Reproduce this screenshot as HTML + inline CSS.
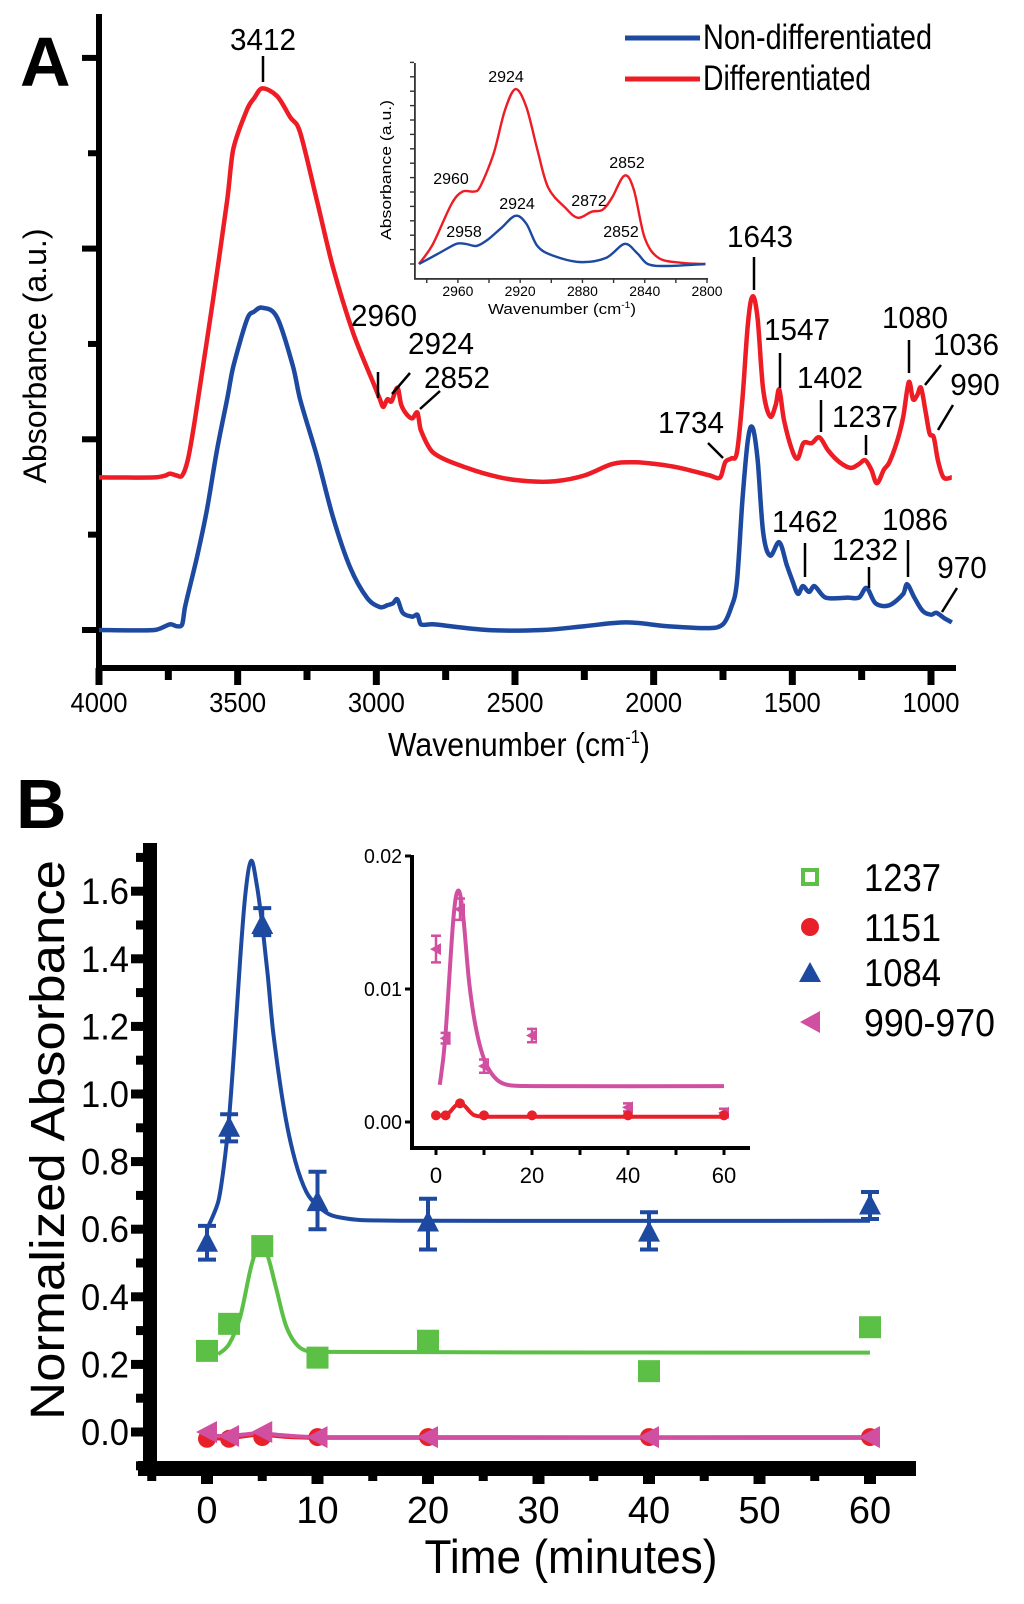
<!DOCTYPE html>
<html><head><meta charset="utf-8"><style>
html,body{margin:0;padding:0;background:#fff;}
svg{display:block;font-family:"Liberation Sans",Arial,sans-serif;}
</style></head><body>
<svg id="fig" width="1024" height="1604" viewBox="0 0 1024 1604" xmlns="http://www.w3.org/2000/svg">
<rect x="0" y="0" width="1024" height="1604" fill="#fff"/>
<text x="20" y="86" font-size="70" font-weight="bold">A</text>
<rect x="96" y="14" width="6" height="657" fill="#000"/>
<rect x="96" y="665" width="860" height="6" fill="#000"/>
<text transform="translate(46,356) rotate(-90)" text-anchor="middle" font-size="32" textLength="255" lengthAdjust="spacingAndGlyphs">Absorbance (a.u.)</text>
<text x="388" y="756" font-size="33" textLength="262" lengthAdjust="spacingAndGlyphs">Wavenumber (cm<tspan dy="-13" font-size="18">-1</tspan><tspan dy="13">)</tspan></text>
<g id="aTicks"></g>
<g id="aSeries"></g>
<g id="aNotes" font-size="31" fill="#000" text-anchor="middle"></g>
<g>
<line x1="625" y1="38" x2="700" y2="38" stroke="#1d4aa0" stroke-width="5"/>
<text x="703" y="49" font-size="35" textLength="229" lengthAdjust="spacingAndGlyphs">Non-differentiated</text>
<line x1="625" y1="79" x2="700" y2="79" stroke="#ee1c24" stroke-width="5"/>
<text x="703" y="90" font-size="35" textLength="168" lengthAdjust="spacingAndGlyphs">Differentiated</text>
</g>
<rect x="414" y="63" width="1.8" height="216" fill="#333"/>
<rect x="414" y="278" width="294" height="1.8" fill="#333"/>
<text transform="translate(391,170) rotate(-90)" text-anchor="middle" font-size="15" textLength="140" lengthAdjust="spacingAndGlyphs">Absorbance (a.u.)</text>
<text x="562" y="314" text-anchor="middle" font-size="15" textLength="148" lengthAdjust="spacingAndGlyphs">Wavenumber (cm<tspan dy="-6" font-size="9">-1</tspan><tspan dy="6">)</tspan></text>
<g id="iTicks"></g>
<g id="iSeries"></g>
<g font-size="16" text-anchor="middle">
<text x="506" y="82">2924</text>
<text x="451" y="184">2960</text>
<text x="464" y="237">2958</text>
<text x="517" y="209">2924</text>
<text x="589" y="206">2872</text>
<text x="627" y="168">2852</text>
<text x="621" y="237">2852</text>
</g>
<text x="16" y="828" font-size="70" font-weight="bold">B</text>
<rect x="143" y="843" width="14" height="633" fill="#000"/>
<rect x="138" y="1461" width="778" height="15" fill="#000"/>
<text transform="translate(64,1140) rotate(-90)" text-anchor="middle" font-size="48" textLength="560" lengthAdjust="spacingAndGlyphs">Normalized Absorbance</text>
<text x="571" y="1573" text-anchor="middle" font-size="47" textLength="293" lengthAdjust="spacingAndGlyphs">Time (minutes)</text>
<g id="bTicks"></g>
<g id="bSeries"></g>
<rect x="410" y="855" width="4" height="295" fill="#000"/>
<rect x="410" y="1146" width="340" height="4" fill="#000"/>
<g id="ibTicks"></g>
<g id="ibSeries"></g>
<g font-size="39">
<rect x="803" y="870" width="14" height="14" fill="none" stroke="#5cbf46" stroke-width="4"/>
<text x="864" y="891" textLength="77" lengthAdjust="spacingAndGlyphs">1237</text>
<circle cx="810" cy="927" r="9" fill="#e8202a"/>
<text x="864" y="941" textLength="77" lengthAdjust="spacingAndGlyphs">1151</text>
<polygon points="810,962 821,982 799,982" fill="#1d4aa0"/>
<text x="864" y="986" textLength="77" lengthAdjust="spacingAndGlyphs">1084</text>
<polygon points="800,1022 820,1011 820,1033" fill="#d14fa0"/>
<text x="864" y="1036" textLength="131" lengthAdjust="spacingAndGlyphs">990-970</text>
</g>
</svg>
<script>
const redWave = [4000,3800,3760,3744,3720,3700,3680,3660,3643,3589,3538,3516,3466,3440,3412,3358,3311,3275,3214,3156,3084,3012,2987,2975,2960,2945,2924,2910,2890,2870,2852,2840,2795,2673,2554,2450,2356,2250,2150,2074,1990,1905,1797,1760,1742,1720,1700,1680,1660,1643,1625,1605,1580,1560,1547,1530,1500,1480,1460,1430,1402,1370,1330,1290,1260,1237,1215,1195,1170,1150,1120,1100,1080,1065,1050,1036,1020,1005,990,975,955,925];
const redAbs = [0.80,0.80,0.81,0.82,0.81,0.81,0.89,1.05,1.21,1.73,2.25,2.52,2.73,2.79,2.84,2.80,2.69,2.61,2.25,1.90,1.56,1.30,1.21,1.17,1.21,1.20,1.27,1.18,1.13,1.11,1.14,1.05,0.93,0.85,0.80,0.78,0.78,0.81,0.87,0.88,0.87,0.85,0.81,0.80,0.88,0.90,0.93,1.21,1.61,1.75,1.63,1.26,1.12,1.18,1.26,1.10,0.94,0.90,0.98,0.98,1.01,0.94,0.88,0.85,0.87,0.89,0.84,0.77,0.84,0.88,1.00,1.12,1.30,1.21,1.23,1.27,1.15,1.03,1.01,0.89,0.80,0.80];
const blueWave = [4000,3800,3744,3720,3700,3690,3647,3611,3575,3538,3516,3466,3440,3412,3358,3300,3275,3214,3156,3095,3034,2987,2960,2940,2924,2905,2870,2852,2840,2795,2600,2400,2250,2100,1950,1800,1750,1720,1700,1680,1660,1643,1625,1605,1580,1547,1520,1500,1480,1462,1440,1420,1380,1300,1260,1232,1200,1150,1100,1086,1060,1030,1000,980,950,925];
const blueAbs = [0.00,0.00,0.03,0.02,0.03,0.12,0.38,0.63,0.94,1.21,1.38,1.63,1.67,1.69,1.64,1.38,1.21,0.91,0.59,0.33,0.17,0.12,0.13,0.14,0.16,0.09,0.07,0.08,0.03,0.03,0.00,0.00,0.02,0.04,0.02,0.01,0.03,0.12,0.25,0.68,1.00,1.06,0.89,0.51,0.39,0.46,0.34,0.26,0.19,0.23,0.20,0.23,0.17,0.17,0.17,0.22,0.14,0.13,0.19,0.24,0.17,0.10,0.08,0.09,0.06,0.04];
const aXTicks = [4000,3750,3500,3250,3000,2750,2500,2250,2000,1750,1500,1250,1000];
const aXLabels = ["4000","","3500","","3000","","2500","","2000","","1500","","1000"];
const aYTicks = [0,0.5,1,1.5,2,2.5,3];
const insetRedWave = [2985,2976,2964,2957,2950,2946,2937,2930,2923,2916,2909,2902,2891,2883,2874,2867,2861,2853,2847,2840,2831,2815,2801];
const insetRedAbs = [0,0.10,0.30,0.36,0.36,0.38,0.55,0.76,0.87,0.78,0.57,0.38,0.28,0.23,0.26,0.27,0.33,0.44,0.37,0.13,0.03,0.005,0];
const insetBlueWave = [2985,2973,2961,2955,2948,2941,2932,2923,2916,2909,2900,2882,2865,2853,2845,2838,2826,2801];
const insetBlueAbs = [0,0.05,0.10,0.10,0.09,0.12,0.18,0.24,0.20,0.09,0.045,0.01,0.03,0.10,0.055,0,-0.01,0];
const insetXTicks = [2980,2960,2940,2920,2900,2880,2860,2840,2820,2800];
const insetXLabels = ["","2960","","2920","","2880","","2840","","2800"];
const times = [0,2,5,10,20,40,60];
const abs1084 = [0.56,0.90,1.50,0.68,0.62,0.59,0.67];
const err1084Lo = [0.51,0.86,1.47,0.60,0.54,0.54,0.63];
const err1084Hi = [0.61,0.94,1.55,0.77,0.69,0.65,0.71];
const abs1237 = [0.24,0.32,0.55,0.22,0.27,0.18,0.31];
const abs1151 = [-0.02,-0.02,-0.015,-0.015,-0.015,-0.015,-0.015];
const abs990 = [0.0,-0.012,0.0,-0.015,-0.015,-0.015,-0.015];
const fit1084T = [0,1,1.5,2,2.5,3,3.5,4,4.5,5,5.5,6,7,8,9,10,11,12,14,20,60];
const fit1084V = [0.60,0.68,0.78,0.93,1.15,1.40,1.60,1.69,1.62,1.50,1.35,1.18,0.95,0.80,0.71,0.67,0.645,0.635,0.627,0.625,0.625];
const fit1237T = [1,2,3,4,4.8,5.5,6.3,7.2,8.4,10,60];
const fit1237V = [0.23,0.26,0.34,0.49,0.56,0.52,0.42,0.31,0.25,0.237,0.235];
const fit1151T = [0,2,4,5,7,10,60];
const fit1151V = [-0.02,-0.018,-0.01,-0.008,-0.014,-0.017,-0.017];
const fit990T = [0,2,4,5,7,10,60];
const fit990V = [-0.01,-0.012,-0.005,-0.004,-0.01,-0.015,-0.015];
const bYTicks = [-0.1,0,0.1,0.2,0.3,0.4,0.5,0.6,0.7,0.8,0.9,1.0,1.1,1.2,1.3,1.4,1.5,1.6,1.7];
const bYLabels = ["","0.0","","0.2","","0.4","","0.6","","0.8","","1.0","","1.2","","1.4","","1.6",""];
const bXTicks = [-5,0,5,10,15,20,25,30,35,40,45,50,55,60,65];
const bXLabels = ["","0","","10","","20","","30","","40","","50","","60",""];
const insetTimes = [0,2,5,10,20,40,60];
const inset1151 = [0.0005,0.0005,0.0014,0.0005,0.0005,0.0005,0.0005];
const inset990 = [0.013,0.0063,0.016,0.0042,0.0065,0.0011,0.0007];
const inset990Err = [0.001,0.0004,0.0008,0.0005,0.0005,0.0003,0.0003];
const insetFit990T = [0.8,1.9,3.6,4.6,5.6,7,8.7,10.8,13.9,20,60];
const insetFit990V = [0.0028,0.0062,0.0152,0.0174,0.0157,0.0102,0.0064,0.0041,0.0029,0.0027,0.0027];
const insetFit1151T = [0,2,3,4,5,6,7,8,10,60];
const insetFit1151V = [0.0005,0.0005,0.0008,0.0012,0.0014,0.0012,0.0008,0.0005,0.0004,0.0004];
const insetYTicks = [0,0.01,0.02];
const insetYLabels = ["0.00","0.01","0.02"];
const insetXTicksB = [0,10,20,30,40,50,60];
const insetXLabelsB = ["0","","20","","40","","60"];

const xA = w => 99 + (4000 - w) * 0.27733;
const yA = a => 630 - a * 190.7;
const xI = w => 707 - (w - 2800) * 1.557;
const yI = a => 264 - a * 201;
const xB = t => 207 + t * 11.05;
const yB = v => 1432 - v * 338;
const xb = t => 436 + t * 4.8;
const yb = v => 1122 - v * 13300;

const NS = "http://www.w3.org/2000/svg";
function mk(tag, parent, attrs) {
  const el = document.createElementNS(NS, tag);
  for (const k in attrs) el.setAttribute(k, attrs[k]);
  parent.appendChild(el);
  return el;
}
function clampT(v, a, b) { const lo = Math.min(a, b), hi = Math.max(a, b); return Math.max(lo, Math.min(hi, v)); }
function smooth(pts) {
  let d = "M" + pts[0][0].toFixed(1) + "," + pts[0][1].toFixed(1);
  for (let i = 0; i < pts.length - 1; i++) {
    const p0 = pts[Math.max(i - 1, 0)], p1 = pts[i], p2 = pts[i + 1], p3 = pts[Math.min(i + 2, pts.length - 1)];
    let c1x = p1[0] + (p2[0] - p0[0]) / 6, c1y = p1[1] + (p2[1] - p0[1]) / 6;
    let c2x = p2[0] - (p3[0] - p1[0]) / 6, c2y = p2[1] - (p3[1] - p1[1]) / 6;
    const segLen = Math.abs(p2[0] - p1[0]);
    const d1 = Math.abs(c1x - p1[0]), d2 = Math.abs(p2[0] - c2x);
    if (d1 > segLen / 2.5) { const s = (segLen / 2.5) / d1; c1x = p1[0] + (c1x - p1[0]) * s; c1y = p1[1] + (c1y - p1[1]) * s; }
    if (d2 > segLen / 2.5) { const s = (segLen / 2.5) / d2; c2x = p2[0] + (c2x - p2[0]) * s; c2y = p2[1] + (c2y - p2[1]) * s; }
    c1x = clampT(c1x, p1[0], p2[0]); c2x = clampT(c2x, p1[0], p2[0]);
    d += " C" + c1x.toFixed(1) + "," + c1y.toFixed(1) + " " + c2x.toFixed(1) + "," + c2y.toFixed(1) + " " + p2[0].toFixed(1) + "," + p2[1].toFixed(1);
  }
  return d;
}

const aTicks = document.getElementById("aTicks");
aYTicks.forEach((v, i) => {
  const major = Number.isInteger(v);
  const r = mk("rect", aTicks, {x: major ? 82 : 88, y: yA(v) - 3, width: major ? 17 : 11, height: 6, fill: "#000"});
  
  
});
aXTicks.forEach((w, i) => {
  const major = aXLabels[i] !== "";
  const r = mk("rect", aTicks, {x: xA(w) - 3.5, y: 668, width: 7, height: major ? 17 : 12, fill: "#000"});
  
  
  if (major) {
    const t = mk("text", aTicks, {x: xA(w), y: 712, "text-anchor": "middle", "font-size": 28, textLength: 57, lengthAdjust: "spacingAndGlyphs"});
    t.textContent = aXLabels[i];
    
    
  }
});
const aSeries = document.getElementById("aSeries");
const redPath = mk("path", aSeries, {d: smooth(redWave.map((w, i) => [xA(w), yA(redAbs[i])])), fill: "none", stroke: "#ee1c24", "stroke-width": 4.5, "stroke-linejoin": "round"});


const bluePath = mk("path", aSeries, {d: smooth(blueWave.map((w, i) => [xA(w), yA(blueAbs[i])])), fill: "none", stroke: "#1d4aa0", "stroke-width": 4.5, "stroke-linejoin": "round"});



const notes = [
  ["3412", 263, 50, 263, 56, 263, 82],
  ["2960", 384, 326, 378, 372, 378, 398],
  ["2924", 441, 354, 392, 394, 410, 373],
  ["2852", 457, 388, 420, 409, 440, 391],
  ["1734", 691, 433, 708, 443, 723, 458],
  ["1643", 760, 247, 754, 257, 754, 290],
  ["1547", 797, 340, 780, 353, 780, 388],
  ["1402", 830, 388, 821, 400, 821, 432],
  ["1237", 865, 427, 866, 435, 866, 455],
  ["1080", 915, 328, 909, 340, 909, 373],
  ["1036", 966, 355, 925, 385, 941, 365],
  ["990", 975, 395, 938, 430, 953, 405],
  ["1462", 805, 532, 805, 543, 805, 577],
  ["1232", 865, 560, 869, 567, 869, 588],
  ["1086", 915, 530, 908, 540, 908, 577],
  ["970", 962, 578, 942, 612, 957, 588]
];
const aNotes = document.getElementById("aNotes");
notes.forEach(n => {
  const t = mk("text", aNotes, {x: n[1], y: n[2], textLength: n[0].length * 16.5, lengthAdjust: "spacingAndGlyphs"});
  t.textContent = n[0];
  
  
  const l = mk("line", aNotes, {x1: n[3], y1: n[4], x2: n[5], y2: n[6], stroke: "#000", "stroke-width": 2.5});
  
  
});

const iTicks = document.getElementById("iTicks");
for (let k = 0; k <= 14; k++) {
  const y = 264 - k * 14.4;
  const r = mk("rect", iTicks, {x: 410, y: y - 0.7, width: 4, height: 1.4, fill: "#333"});
  
  
}
insetXTicks.forEach((w, i) => {
  const r = mk("rect", iTicks, {x: xI(w) - 0.7, y: 279, width: 1.4, height: 4, fill: "#333"});
  
  
  if (insetXLabels[i]) {
    const t = mk("text", iTicks, {x: xI(w), y: 296, "text-anchor": "middle", "font-size": 14, textLength: 31, lengthAdjust: "spacingAndGlyphs"});
    t.textContent = insetXLabels[i];
    
    
  }
});
const iSeries = document.getElementById("iSeries");
const ir = mk("path", iSeries, {d: smooth(insetRedWave.map((w, i) => [xI(w), yI(insetRedAbs[i])])), fill: "none", stroke: "#ee1c24", "stroke-width": 2.4});


const ib = mk("path", iSeries, {d: smooth(insetBlueWave.map((w, i) => [xI(w), yI(insetBlueAbs[i])])), fill: "none", stroke: "#1d4aa0", "stroke-width": 2.4});



const bTicks = document.getElementById("bTicks");
bYTicks.forEach((v, i) => {
  const major = bYLabels[i] !== "";
  const r = mk("rect", bTicks, {x: major ? 131 : 136, y: yB(v) - 4.5, width: major ? 14 : 9, height: 9, fill: "#000"});
  
  
  if (major) {
    const t = mk("text", bTicks, {x: 129, y: yB(v) + 13, "text-anchor": "end", "font-size": 37, textLength: 48, lengthAdjust: "spacingAndGlyphs"});
    t.textContent = bYLabels[i];
    
    
  }
});
bXTicks.forEach((tv, i) => {
  if (xB(tv) > 914) return;
  const major = bXLabels[i] !== "";
  const r = mk("rect", bTicks, {x: xB(tv) - (major ? 6 : 4.5), y: 1474, width: major ? 12 : 9, height: major ? 10 : 7, fill: "#000"});
  
  
  if (major) {
    const t = mk("text", bTicks, {x: xB(tv), y: 1523, "text-anchor": "middle", "font-size": 38});
    t.textContent = bXLabels[i];
    
    
  }
});
const bSeries = document.getElementById("bSeries");
function fitLine(parent, T, V, xf, yf, color, w, name) {
  const p = mk("path", parent, {d: smooth(T.map((t, i) => [xf(t), yf(V[i])])), fill: "none", stroke: color, "stroke-width": w});
  
  
}
fitLine(bSeries, fit1151T, fit1151V, xB, yB, "#e8202a", 4, "fit-line-1151");
fitLine(bSeries, fit990T, fit990V, xB, yB, "#d14fa0", 4, "fit-line-990-970");
fitLine(bSeries, fit1237T, fit1237V, xB, yB, "#5cbf46", 4, "fit-line-1237");
fitLine(bSeries, fit1084T, fit1084V, xB, yB, "#1d4aa0", 4, "fit-line-1084");
times.forEach((t, i) => {
  const x = xB(t);
  const e = mk("path", bSeries, {d: `M${x},${yB(err1084Lo[i])}V${yB(err1084Hi[i])}M${x-9},${yB(err1084Lo[i])}H${x+9}M${x-9},${yB(err1084Hi[i])}H${x+9}`, stroke: "#1d4aa0", "stroke-width": 4, fill: "none"});
  
  
  const y = yB(abs1084[i]);
  const m = mk("polygon", bSeries, {points: `${x},${y-12} ${x+11},${y+9} ${x-11},${y+9}`, fill: "#1d4aa0"});
  
  
});
times.forEach((t, i) => {
  const x = xB(t), y = yB(abs1237[i]);
  const m = mk("rect", bSeries, {x: x - 11, y: y - 11, width: 22, height: 22, fill: "#5cbf46"});
  
  
});
times.forEach((t, i) => {
  const x = xB(t), y = yB(abs1151[i]);
  const m = mk("circle", bSeries, {cx: x, cy: y, r: 9, fill: "#e8202a"});
  
  
});
times.forEach((t, i) => {
  const x = xB(t), y = yB(abs990[i]);
  const m = mk("polygon", bSeries, {points: `${x-11},${y} ${x+10},${y-11} ${x+10},${y+11}`, fill: "#d14fa0"});
  
  
});

const ibTicks = document.getElementById("ibTicks");
insetYTicks.forEach((v, i) => {
  const r = mk("rect", ibTicks, {x: 405, y: yb(v) - 1.5, width: 6, height: 3, fill: "#000"});
  
  
  const t = mk("text", ibTicks, {x: 402, y: yb(v) + 7, "text-anchor": "end", "font-size": 20, textLength: 38, lengthAdjust: "spacingAndGlyphs"});
  t.textContent = insetYLabels[i];
  
  
});
insetXTicksB.forEach((tv, i) => {
  const r = mk("rect", ibTicks, {x: xb(tv) - 1.5, y: 1149, width: 3, height: 6, fill: "#000"});
  
  
  if (insetXLabelsB[i]) {
    const t = mk("text", ibTicks, {x: xb(tv), y: 1183, "text-anchor": "middle", "font-size": 22});
    t.textContent = insetXLabelsB[i];
    
    
  }
});
const ibSeries = document.getElementById("ibSeries");
fitLine(ibSeries, insetFit990T, insetFit990V, xb, yb, "#d14fa0", 4, "inset-fit-line-990-970");
fitLine(ibSeries, insetFit1151T, insetFit1151V, xb, yb, "#e8202a", 4, "inset-fit-line-1151");
insetTimes.forEach((t, i) => {
  const x = xb(t), y = yb(inset990[i]);
  const lo = yb(inset990[i] - inset990Err[i]), hi = yb(inset990[i] + inset990Err[i]);
  const e = mk("path", ibSeries, {d: `M${x},${lo}V${hi}M${x-5},${lo}H${x+5}M${x-5},${hi}H${x+5}`, stroke: "#d14fa0", "stroke-width": 2.5, fill: "none"});
  
  
  const m = mk("polygon", ibSeries, {points: `${x-6},${y} ${x+5},${y-6} ${x+5},${y+6}`, fill: "#d14fa0"});
  
  
});
insetTimes.forEach((t, i) => {
  const m = mk("circle", ibSeries, {cx: xb(t), cy: yb(inset1151[i]), r: 5, fill: "#e8202a"});
  
  
});
</script>
</body></html>
